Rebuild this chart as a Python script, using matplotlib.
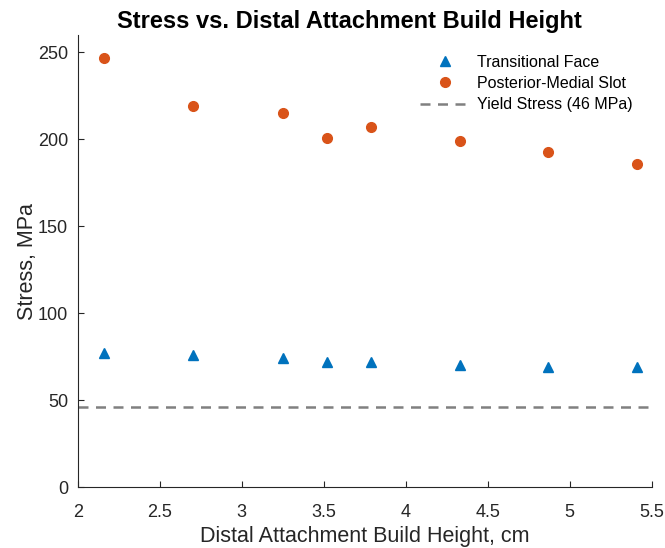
import matplotlib
matplotlib.use('Agg')
import matplotlib.pyplot as plt

plt.rcParams['font.family'] = ['Liberation Sans', 'DejaVu Sans']

height = [2.16, 2.70, 3.25, 3.52, 3.79, 4.33, 4.87, 5.41]
transitional = [77, 76, 74, 72, 72, 70, 69, 69]
posterior = [247, 219, 215, 201, 207, 199, 193, 186]
yield_stress = 46

fig = plt.figure(figsize=(6.65, 5.48), dpi=100)
ax = fig.add_axes([0.117, 0.111, 0.863, 0.825])

ax.plot(height, transitional, '^', color='#0072BD', markersize=7, label='Transitional Face')
ax.plot(height, posterior, 'o', color='#D95319', markersize=7, label='Posterior-Medial Slot')
ax.axhline(yield_stress, color='#808080', linestyle=(0, (4, 3)), linewidth=1.8, label='Yield Stress (46 MPa)')

ax.set_xlim(2, 5.5)
ax.set_ylim(0, 260)
ax.set_xticks([2, 2.5, 3, 3.5, 4, 4.5, 5, 5.5])
ax.set_xticklabels(['2', '2.5', '3', '3.5', '4', '4.5', '5', '5.5'])
ax.set_yticks([0, 50, 100, 150, 200, 250])

for s in ['top', 'right']:
    ax.spines[s].set_visible(False)
for s in ['left', 'bottom']:
    ax.spines[s].set_color('#262626')
ax.tick_params(direction='in', length=4, colors='#262626', labelsize=13)
ax.tick_params(axis='x', pad=12)
ax.tick_params(axis='y', pad=7)

ax.set_xlabel('Distal Attachment Build Height, cm', fontsize=15.5, color='#262626', labelpad=4)
ax.set_ylabel('Stress, MPa', fontsize=15.5, color='#262626', labelpad=0)
ax.set_title('Stress vs. Distal Attachment Build Height', fontsize=17, fontweight='bold',
             x=(350 - 78) / (652 - 78), pad=5)

ax.legend(loc='upper right', frameon=False, fontsize=11.5, handlelength=3.2, handletextpad=0.4,
          labelspacing=0.38, bbox_to_anchor=(633 / 665, 1 - 55 / 548), bbox_transform=fig.transFigure,
          borderaxespad=0, borderpad=0)

fig.savefig('out.png', dpi=100)
